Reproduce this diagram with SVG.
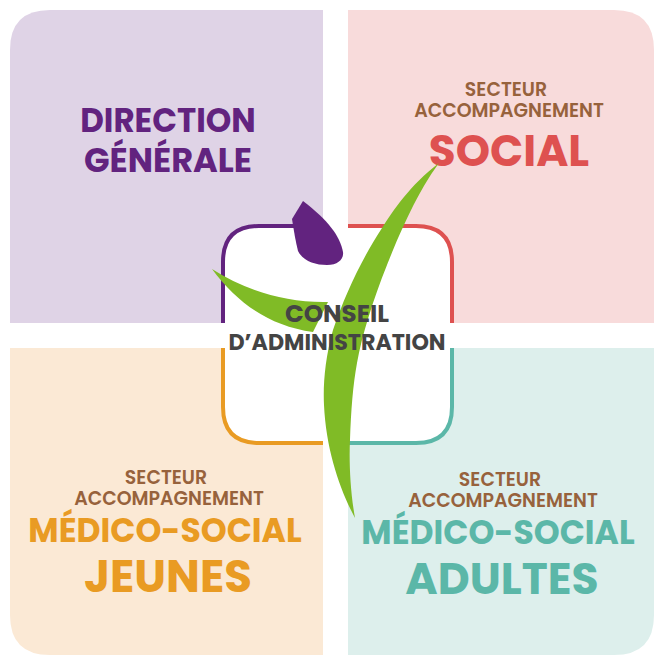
<svg xmlns="http://www.w3.org/2000/svg" width="654" height="655" viewBox="0 0 654 655">
<style>
text{font-family:"Poppins","Inter","Open Sans",sans-serif;text-anchor:middle}
.s{font-size:18.9px;font-weight:600;fill:#97623c}
.t{font-weight:700}
</style>
<rect width="654" height="655" fill="#fff"/>
<g id="direction"><path d="M323 10V323H10V50Q10 10 50 10Z" fill="#dfd3e6"/>
<text class="t" x="168" y="132" font-size="32.5" fill="#62237f">DIRECTION</text><text class="t" x="168" y="172" font-size="33.6" fill="#62237f">GÉNÉRALE</text></g>
<g id="social"><path d="M348 10V323H654V50Q654 10 614 10Z" fill="#f8dbdb"/>
<text class="s" x="506" y="96">SECTEUR</text><text class="s" x="509" y="117">ACCOMPAGNEMENT</text><text class="t" x="509" y="166" font-size="43.7" fill="#de5150">SOCIAL</text></g>
<g id="jeunes"><path d="M323 348V655H50Q10 655 10 615V348Z" fill="#fbe9d5"/>
<text class="s" x="166" y="484">SECTEUR</text><text class="s" x="169" y="505">ACCOMPAGNEMENT</text><text class="t" x="165" y="542" font-size="33" fill="#e99b23">MÉDICO-SOCIAL</text><text class="t" x="168" y="592" font-size="45" fill="#e99b23">JEUNES</text></g>
<g id="adultes"><path d="M348 348V655H614Q654 655 654 615V348Z" fill="#ddefec"/>
<text class="s" x="500" y="486">SECTEUR</text><text class="s" x="503" y="507">ACCOMPAGNEMENT</text><text class="t" x="498" y="544" font-size="33" fill="#5bb7a8">MÉDICO-SOCIAL</text><text class="t" x="502" y="594" font-size="44" fill="#5bb7a8">ADULTES</text></g>
<g id="conseil">
<rect x="223" y="226" width="229" height="217" rx="36" fill="#fff"/>
<path d="M323 226H259Q223 226 223 262V323" fill="none" stroke="#62237f" stroke-width="4"/>
<path d="M348 226H416Q452 226 452 262V323" fill="none" stroke="#de5150" stroke-width="4"/>
<path d="M323 443H259Q223 443 223 407V348" fill="none" stroke="#e99b23" stroke-width="4"/>
<path d="M348 443H416Q452 443 452 407V348" fill="none" stroke="#5bb7a8" stroke-width="4"/>
<path d="M303 201L292 219C294 232 296 243 298 251C303 261 315 265 327 265C338 265 344 259 343 252C340 236 328 220 303 201Z" fill="#62237f"/>
<path d="M212 269C245 290 285 303 328 302C323 312 318 322 313 332C270 326 238 304 212 269Z" fill="#80bb26"/>
<path d="M439 163C410 185 392 212 382 228C360 262 345 295 333 330C325 358 323 385 324 405C326 450 340 490 355 518C350 490 349 460 350 440C351 410 353 385 357 363C362 335 373 300 387 265C395 245 415 195 439 163Z" fill="#80bb26"/>
<text class="t" x="337" y="322" font-size="24.6" fill="#444">CONSEIL</text><text class="t" x="337" y="350" font-size="22.2" fill="#444">D’ADMINISTRATION</text>
</g>
</svg>
